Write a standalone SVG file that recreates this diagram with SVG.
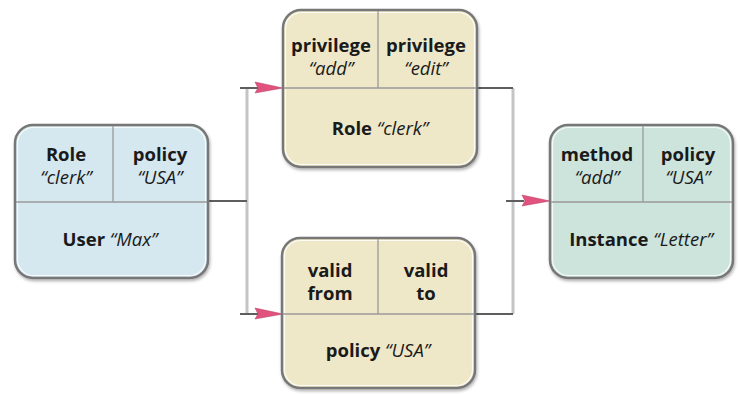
<svg xmlns="http://www.w3.org/2000/svg" width="740" height="394" viewBox="0 0 740 394">
<style>
.box{stroke:#777777;stroke-width:2.5}
.hi{fill:none;stroke:#ffffff;stroke-width:1.2;opacity:0.8}
.div{stroke:#9a9a9a;stroke-width:1.3}
.b{font-family:"Open Sans","Noto Sans",sans-serif;font-weight:bold;font-size:18.5px;fill:#1a1a1a;text-anchor:middle}
.i{font-family:"Open Sans","Noto Sans",sans-serif;font-style:italic;font-weight:normal}
.blue{fill:#d5e7ef}
.beige{fill:#eee8c9}
.teal{fill:#cde4dd}
.h{stroke:#5e5e5e;stroke-width:2;fill:none}
.v{stroke:#c4c4c4;stroke-width:3;fill:none}
.ah{fill:#e2527e;stroke:#b03a60;stroke-width:0.5}
</style>
<defs>
<filter id="sh" x="-10%" y="-10%" width="120%" height="120%">
<feDropShadow dx="1" dy="2" stdDeviation="1.5" flood-color="#000" flood-opacity="0.3"/>
</filter>
</defs>
<g id="connectors">
<line class="v" x1="247" y1="88" x2="247" y2="314"/>
<line class="v" x1="513" y1="88" x2="513" y2="314"/>
<line class="h" x1="208" y1="201" x2="247" y2="201"/>
<line class="h" x1="240" y1="88" x2="258" y2="88"/>
<line class="h" x1="240" y1="314" x2="258" y2="314"/>
<line class="h" x1="477" y1="88" x2="513" y2="88"/>
<line class="h" x1="475" y1="314" x2="513" y2="314"/>
<line class="h" x1="506" y1="201" x2="524" y2="201"/>
<polygon class="ah" points="255,82 283,88 255,93 258,88"/>
<polygon class="ah" points="255,308 283,314 255,319 258,314"/>
<polygon class="ah" points="522,195 550,201 522,206 525,201"/>
</g>
<g id="user">
<rect class="box blue" x="15" y="125" width="193" height="153" rx="18" filter="url(#sh)"/>
<rect class="hi" x="17.5" y="127.5" width="188" height="148" rx="16"/>
<line class="div" x1="16" y1="202" x2="207" y2="202"/>
<line class="div" x1="113" y1="126" x2="113" y2="202"/>
<text class="b" x="66" y="161">Role</text>
<text class="b i" x="66" y="184">“clerk”</text>
<text class="b" x="160" y="161">policy</text>
<text class="b i" x="160" y="184">“USA”</text>
<text class="b" x="110" y="246">User <tspan class="i">“Max”</tspan></text>
</g>
<g id="role">
<rect class="box beige" x="283" y="10" width="194" height="157" rx="18" filter="url(#sh)"/>
<rect class="hi" x="285.5" y="12.5" width="189" height="152" rx="16"/>
<line class="div" x1="284" y1="88" x2="476" y2="88"/>
<line class="div" x1="378" y1="11" x2="378" y2="88"/>
<text class="b" x="331" y="52">privilege</text>
<text class="b i" x="331" y="75">“add”</text>
<text class="b" x="426" y="52">privilege</text>
<text class="b i" x="426" y="75">“edit”</text>
<text class="b" x="380" y="135">Role <tspan class="i">“clerk”</tspan></text>
</g>
<g id="policy">
<rect class="box beige" x="282" y="238" width="193" height="150" rx="18" filter="url(#sh)"/>
<rect class="hi" x="284.5" y="240.5" width="188" height="145" rx="16"/>
<line class="div" x1="283" y1="314" x2="474" y2="314"/>
<line class="div" x1="378" y1="239" x2="378" y2="314"/>
<text class="b" x="330" y="277">valid</text>
<text class="b" x="330" y="300">from</text>
<text class="b" x="426" y="277">valid</text>
<text class="b" x="426" y="300">to</text>
<text class="b" x="378" y="357">policy <tspan class="i">“USA”</tspan></text>
</g>
<g id="instance">
<rect class="box teal" x="550" y="125" width="183" height="153" rx="18" filter="url(#sh)"/>
<rect class="hi" x="552.5" y="127.5" width="178" height="148" rx="16"/>
<line class="div" x1="551" y1="202" x2="732" y2="202"/>
<line class="div" x1="643" y1="126" x2="643" y2="202"/>
<text class="b" x="597" y="161">method</text>
<text class="b i" x="597" y="184">“add”</text>
<text class="b" x="688" y="161">policy</text>
<text class="b i" x="688" y="184">“USA”</text>
<text class="b" x="641" y="246">Instance <tspan class="i">“Letter”</tspan></text>
</g>
</svg>
